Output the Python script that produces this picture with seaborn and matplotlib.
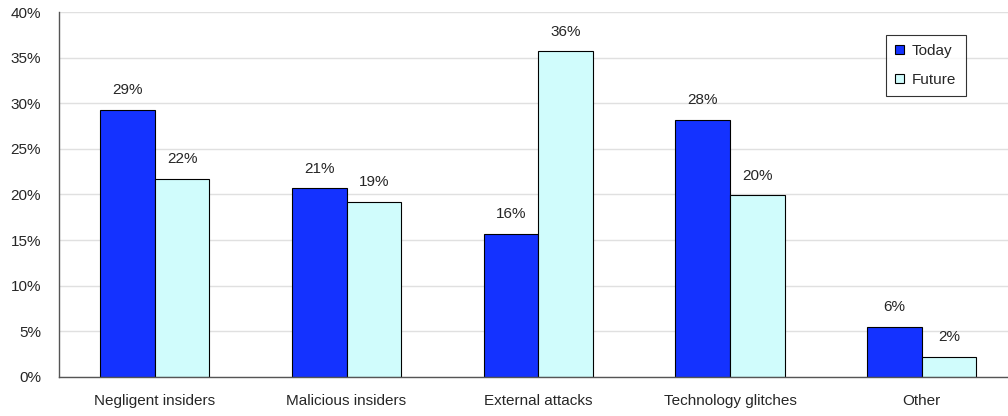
import matplotlib
matplotlib.use("Agg")
import matplotlib.pyplot as plt
from matplotlib.ticker import FixedLocator, NullFormatter, PercentFormatter
import seaborn as sns
import pandas as pd

categories = ["Negligent insiders", "Malicious insiders", "External attacks",
              "Technology glitches", "Other"]
today = [29.3, 20.7, 15.7, 28.2, 5.5]
future = [21.7, 19.2, 35.7, 19.9, 2.2]
series_names = ["Today", "Future"]
colors = ["#1432FF", "#D0FCFC"]

df = pd.DataFrame({
    "category": categories * 2,
    "value": today + future,
    "series": [series_names[0]] * len(categories) + [series_names[1]] * len(categories),
})

sns.set_style("white")
plt.rcParams["font.family"] = ["Liberation Sans", "DejaVu Sans"]
FS = 11

fig = plt.figure(figsize=(10.08, 4.16), dpi=100)
# the plot area runs slightly past the right edge of the canvas
ax = fig.add_axes([0.0585, 0.094, 0.951, 0.877])

sns.barplot(data=df, x="category", y="value", hue="series", order=categories,
            hue_order=series_names, palette=colors, width=0.57, gap=0,
            edgecolor="black", linewidth=0.8, saturation=1, ax=ax, legend=True)

ax.set_ylim(0, 40)
ax.set_xlim(-0.5, len(categories) - 0.5)
ax.yaxis.set_major_locator(FixedLocator(range(0, 41, 5)))
ax.yaxis.set_major_formatter(PercentFormatter(decimals=0))
ax.grid(axis="y", color="#E0E0E0", linewidth=1)
ax.set_axisbelow(True)

# category labels sit between boundary tick marks
ax.tick_params(axis="x", which="major", length=0, pad=12, labelsize=FS)
ax.xaxis.set_minor_locator(FixedLocator([i - 0.5 for i in range(len(categories))]))
ax.xaxis.set_minor_formatter(NullFormatter())
ax.tick_params(axis="x", which="minor", length=5, width=1, color="#555555", direction="out")
ax.tick_params(axis="y", length=5, width=1, color="#555555", direction="out",
               labelsize=FS, pad=8)
ax.set_xlabel("")
ax.set_ylabel("")

for side in ["top", "right"]:
    ax.spines[side].set_visible(False)
for side in ["left", "bottom"]:
    ax.spines[side].set_color("#555555")
    ax.spines[side].set_linewidth(1)

for container in ax.containers:
    ax.bar_label(container, labels=[f"{v:.0f}%" for v in container.datavalues],
                 padding=9, fontsize=FS)

leg = ax.legend(loc="upper left", bbox_to_anchor=(0.879, 0.916),
                bbox_transform=fig.transFigure, frameon=True, fancybox=False,
                edgecolor="black", fontsize=FS, handlelength=0.55, handleheight=0.55,
                handletextpad=0.55, borderpad=0.6, labelspacing=0.95,
                borderaxespad=0)
leg.get_frame().set_linewidth(0.8)

fig.savefig("out.png", dpi=100, facecolor="white")
